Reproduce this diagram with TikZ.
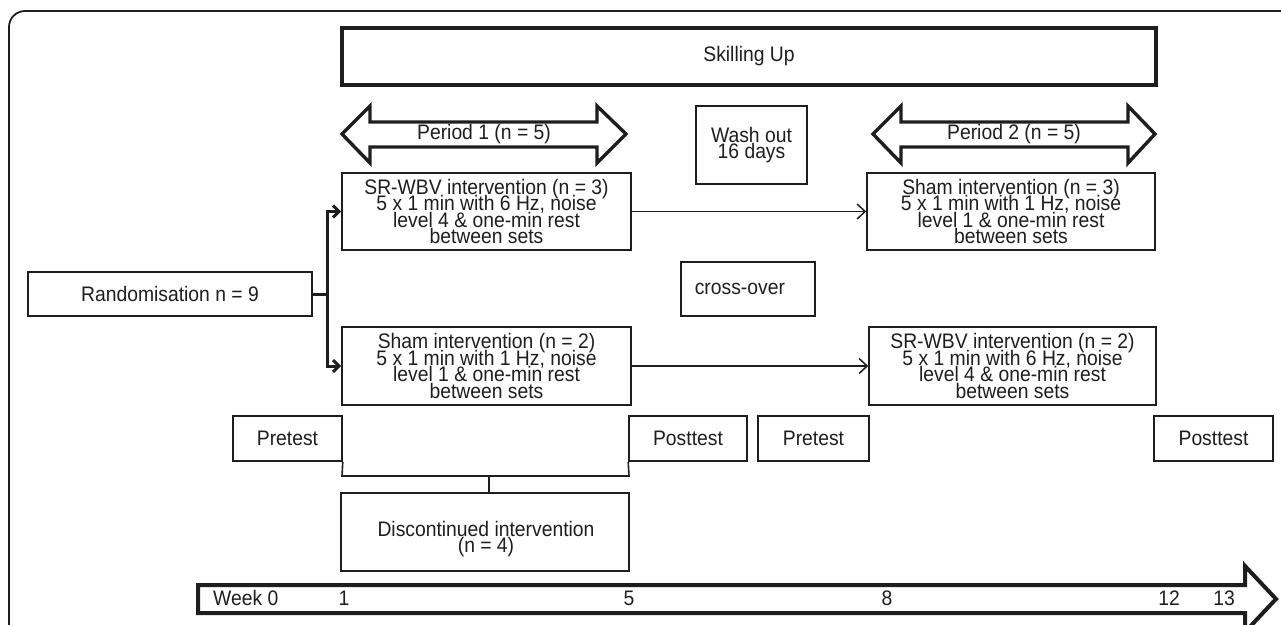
\documentclass[tikz,border=0pt]{standalone}
\usepackage{fontspec}
\setmainfont{Liberation Sans}[FakeStretch=0.92]
\usetikzlibrary{arrows.meta}
\definecolor{ln}{HTML}{1E1E1E}
\begin{document}
\lineskiplimit=-50pt
\lineskip=0pt
\begin{tikzpicture}[x=1pt,y=-1pt,
  txt/.style={font=\fontsize{21}{16.4}\selectfont, text=ln, align=center, inner sep=0pt},
  box/.style={txt, draw=ln, line width=1.6pt},
  thickbox/.style={txt, draw=ln, line width=3.6pt},
  bigarrow/.style={draw=ln, line width=3.4pt, line join=miter},
  thickline/.style={draw=ln, line width=3pt},
  thinarrow/.style={draw=ln, line width=1.5pt, -{Straight Barb[length=8pt,width=15pt]}},
  barbarrow/.style={draw=ln, line width=3pt, -{Straight Barb[length=6pt,width=12pt]}}
]
\fill[white] (0,0) rectangle (1281,624);
\useasboundingbox (0,0) rectangle (1281,624);
\clip (0,0) rectangle (1281,624);
% outer frame
\draw[ln, line width=1.8pt, rounded corners=16pt] (9,11) rectangle (1330,670);

% Skilling Up
\node[thickbox, minimum width=814pt, minimum height=57pt] (skill) at (749,56.5) {Skilling Up};

% Period arrows
\draw[bigarrow] (342,134) -- (370,106) -- (370,122) -- (597,122) -- (597,106) -- (626,134)
  -- (597,163) -- (597,147) -- (370,147) -- (370,163) -- cycle;
\node[txt] (p1) at (484,134) {Period 1 (n = 5)};
\draw[bigarrow] (873,134) -- (901,106) -- (901,122) -- (1128,122) -- (1128,106) -- (1155,134)
  -- (1128,163) -- (1128,147) -- (901,147) -- (901,163) -- cycle;
\node[txt] (p2) at (1014,134) {Period 2 (n = 5)};

% Wash out
\node[box, minimum width=111pt, minimum height=78pt] (wash) at (751.5,145) {Wash out\\16 days};

% intervention boxes
\node[box, minimum width=289pt, minimum height=77pt] (sr1) at (486.5,211.5)
  {SR-WBV intervention (n = 3)\\5 x 1 min with 6 Hz, noise\\level 4 \& one-min rest\\between sets};
\node[box, minimum width=288pt, minimum height=77pt] (sh2) at (1011,211.5)
  {Sham intervention (n = 3)\\5 x 1 min with 1 Hz, noise\\level 1 \& one-min rest\\between sets};
\node[box, minimum width=289pt, minimum height=78pt] (sh1) at (486.5,366)
  {Sham intervention (n = 2)\\5 x 1 min with 1 Hz, noise\\level 1 \& one-min rest\\between sets};
\node[box, minimum width=287pt, minimum height=78pt] (sr2) at (1012.5,366)
  {SR-WBV intervention (n = 2)\\5 x 1 min with 6 Hz, noise\\level 4 \& one-min rest\\between sets};

% Randomisation and cross-over
\node[box, minimum width=284pt, minimum height=44pt] (rand) at (170,294) {Randomisation n = 9};
\node[box, anchor=west, text width=106pt, inner xsep=14pt, align=left, minimum height=54pt] (cross) at (680,289) {cross-over};

% tests
\node[box, minimum width=109pt, minimum height=45pt] (pre1) at (287.5,438.5) {Pretest};
\node[box, minimum width=118pt, minimum height=45pt] (post1) at (688,438.5) {Posttest};
\node[box, minimum width=111pt, minimum height=45pt] (pre2) at (813.5,438.5) {Pretest};
\node[box, minimum width=119pt, minimum height=45pt] (post2) at (1213.5,438.5) {Posttest};

% discontinued
\draw[ln, line width=1.6pt] (pre1.south east) -- (342,476) -- (629,476) -- (post1.south west);
\coordinate (ujoin) at (489,476);
\node[box, minimum width=288pt, minimum height=78pt] (disc) at (485,532) {};
\node[txt] (disctxt) at (486,539) {Discontinued intervention\\(n = 4)};
\draw[ln, line width=1.6pt] (ujoin) -- (ujoin |- disc.north);

% randomisation connectors
\coordinate (junc) at (327,294);
\draw[thickline] (rand.east) -- (junc);
\draw[barbarrow] (junc) |- (sr1.west);
\draw[barbarrow] (junc) |- (sh1.west);

% cross arrows
\draw[thinarrow] (sr1.east) -- (sh2.west);
\draw[thinarrow] (sh1.east) -- (sr2.west);

% timeline
\draw[bigarrow, line width=4pt] (198,585) -- (1245,585) -- (1245,566) -- (1276,599) -- (1245,632)
  -- (1245,613) -- (198,613) -- cycle;
\node[txt, anchor=west] (w0) at (213,598) {Week 0};
\node[txt] (w1) at (344,598) {1};
\node[txt] (w5) at (629,598) {5};
\node[txt] (w8) at (887,598) {8};
\node[txt] (w12) at (1169,598) {12};
\node[txt] (w13) at (1224,598) {13};
\end{tikzpicture}
\end{document}
